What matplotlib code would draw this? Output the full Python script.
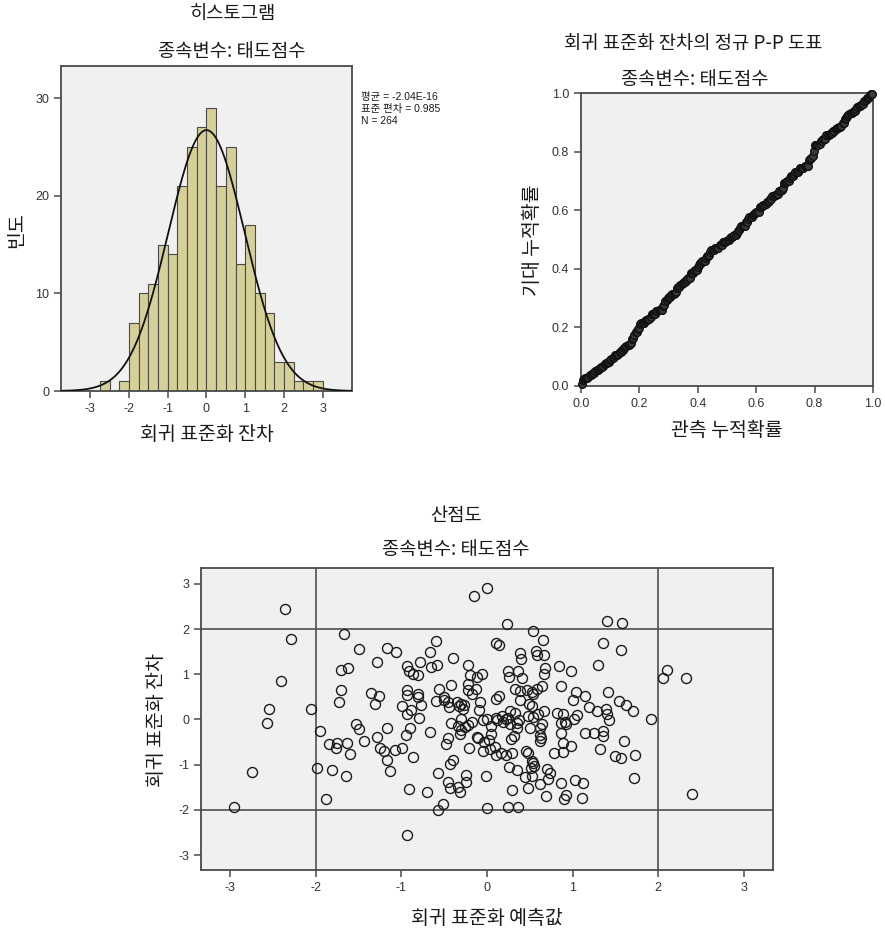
import math
import numpy as np
import matplotlib
matplotlib.use("Agg")
import matplotlib.pyplot as plt

plt.rcParams['font.family'] = ['Noto Sans CJK KR', 'DejaVu Sans']
plt.rcParams['axes.unicode_minus'] = False

# ---------------- data ----------------
hist_bin_start = -2.75
hist_bin_width = 0.25
hist_counts = [1, 0, 1, 7, 10, 11, 15, 14, 21, 25, 27, 29, 21, 25, 13, 17, 10, 8, 3, 3, 1, 1, 1]
resid_mean = -2.04e-16
resid_sd = 0.985
resid_n = 264

hist_xticks = [-3, -2, -1, 0, 1, 2, 3]
hist_yticks = [0, 10, 20, 30]
pp_ticks = [0.0, 0.2, 0.4, 0.6, 0.8, 1.0]
sc_ticks = [-3, -2, -1, 0, 1, 2, 3]
sc_reflines = [-2, 2]

pred = [-2.36, -2.29, -2.41, -2.55, -2.57, -2.75, -2.95, -2.06, -1.95, -1.98, -1.88, -1.81, -1.65, -1.85, -1.76,
        -1.75, -1.64, -1.60, -1.73, -1.71, -1.71, -1.62, -1.67, -1.50, -1.53, -1.50, -1.44, -1.35, -1.31, -1.26,
        -1.29, -1.29, -1.25, -1.20, -1.17, -1.17, -1.13, -1.17, -1.06, -1.08, -0.99, -0.99, -0.93, -0.91, -0.86,
        -0.81, -0.93, -0.93, -0.81, -0.77, -0.89, -0.93, -0.79, -0.90, -0.95, -0.86, -0.91, -0.93, -0.78, -0.67,
        -0.65, -0.58, -0.59, -0.59, -0.56, -0.67, -0.70, -0.57, -0.57, -0.51, -0.50, -0.45, -0.44, -0.40, -0.42,
        -0.42, -0.46, -0.48, -0.40, -0.43, -0.46, -0.43, -0.34, -0.32, -0.34, -0.32, -0.30, -0.28, -0.30, -0.26,
        -0.24, -0.24, -0.22, -0.22, -0.22,
        0.00, -0.15, 0.23, 0.54, 0.65, 0.10, 0.14, 0.39, 0.40, 0.57, 0.58, 0.67,
        1.40, 1.58, 1.36, 1.56, 1.30,
        0.84, 0.98, 0.68, 0.67, 0.25, 0.36, 0.26, 0.41, -0.06, -0.12,
        0.33, 0.39, 0.47, 0.52, 0.58, 0.64, 0.86,
        1.04, 1.14, 1.00, 1.19, 1.41, 1.54, 1.62, 1.70, 1.91,
        1.29, 1.39, 1.40, 1.43,
        0.10, 0.14, -0.08, -0.09,
        0.39, 0.49, 0.53, 0.59, 0.66,
        0.27, 0.33, 0.18, 0.11, 0.00, 0.22,
        0.35, 0.35, 0.50, 0.64, 0.62,
        0.82, 0.89, 0.86, 0.92, 1.02, 1.05,
        0.86, 1.14, 1.25, 1.35, 1.36, 1.60,
        1.32, 1.50, 1.56, 1.73, 1.72,
        0.05, 0.05, 0.02, -0.04, -0.05, 0.04, 0.10, 0.16, 0.22, 0.29,
        0.28, 0.31, 0.63, 0.62, 0.46, 0.48, 0.52, 0.55, 0.51,
        0.78, 0.89, 0.98, 0.89,
        0.26, 0.35, 0.44, 0.53, 0.70, 0.74, 0.71, 0.62, 0.48, 0.29,
        -0.01, 0.86, 1.03, 1.12,
        0.69, 0.92, 0.90, 1.11,
        0.00, 0.24, 0.36,
        2.10, 2.06, 2.32, 2.39,
        0.54, 0.25, 0.48, 0.54, 0.09, -0.10, -0.12, 0.62, 0.27, 0.37, 0.91, -0.05, 0.12, 0.19, 0.54,
        -0.20, -0.13, -0.18, -0.80, -0.50, -0.30, -0.22, -0.17, -0.21, -0.33, -0.27, -0.35]

resid = [2.45, 1.77, 0.85, 0.24, -0.07, -1.16, -1.93, 0.24, -0.26, -1.08, -1.77, -1.11, -1.24, -0.55, -0.64,
         -0.52, -0.51, -0.76, 0.38, 0.66, 1.09, 1.13, 1.90, 1.55, -0.09, -0.22, -0.47, 0.59, 0.35, 0.51,
         1.27, -0.39, -0.64, -0.69, -0.90, -0.18, -1.15, 1.59, 1.49, -0.68, -0.64, 0.30, 1.18, 1.07, 1.01,
         0.98, 0.66, 0.55, 0.57, 0.33, 0.22, 0.12, 0.04, -0.18, -0.35, -0.84, -1.54, -2.56, 1.27, 1.49,
         1.16, 1.20, 1.74, 0.40, 0.68, -0.27, -1.60, -1.19, -2.01, -1.86, 0.50, 0.39, 0.28, 1.37, 0.77,
         -0.07, -0.42, -0.54, -0.90, -0.99, -1.38, -1.51, -1.49, -1.60, -0.14, -0.33, 0.35, 0.24, 0.02, -0.16,
         -1.23, -1.38, 1.20, 0.79, 0.65,
         2.91, 2.73, 2.12, 1.96, 1.76, 1.69, 1.65, 1.46, 1.34, 1.51, 1.42, 1.43,
         2.18, 2.13, 1.69, 1.53, 1.21,
         1.18, 1.08, 1.13, 1.01, 1.07, 1.07, 0.94, 0.92, 1.00, 0.93,
         0.68, 0.63, 0.66, 0.61, 0.68, 0.74, 0.75,
         0.61, 0.52, 0.44, 0.28, 0.61, 0.40, 0.33, 0.18, 0.00,
         0.19, 0.23, 0.12, -0.02,
         0.46, 0.52, 0.39, 0.21,
         0.43, 0.34, 0.29, 0.12, 0.19,
         0.19, 0.15, 0.08, 0.04, 0.00, 0.01,
         -0.07, -0.18, -0.20, -0.09, -0.20,
         0.15, 0.12, -0.07, -0.11, 0.02, 0.10,
         -0.29, -0.29, -0.29, -0.26, -0.37, -0.48,
         -0.65, -0.80, -0.86, -0.79, -1.30,
         -0.14, -0.33, -0.46, -0.49, -0.69, -0.65, -0.79, -0.74, -0.79, -0.75,
         -0.43, -0.37, -0.40, -0.48, -0.69, -0.75, -0.93, -1.04, -1.08,
         -0.74, -0.72, -0.59, -0.51,
         -1.06, -1.12, -1.28, -1.25, -1.10, -1.19, -1.32, -1.43, -1.52, -1.57,
         -1.24, -1.41, -1.34, -1.41,
         -1.70, -1.68, -1.77, -1.73,
         -1.96, -1.94, -1.94,
         1.09, 0.92, 0.92, -1.64,
         0.57, 0.03, 0.07, 0.06, -0.60, -0.42, -0.38, -0.35, -0.09, -0.02, -0.05, -0.02, -0.01, -0.05, -0.97,
         0.98, 0.68, 0.57, 0.50, 0.43, -0.24, -0.13, -0.05, -0.64, 0.30, 0.31, 0.38]

# ---------------- style ----------------
BG = '#F0F0F0'
SPINE = '#4a4a4a'
TXT = '#1a1a1a'
LATIN = ['Liberation Sans', 'Noto Sans CJK KR']
W, H = 885, 935
TFS = 13.5   # title font size
LFS = 14     # axis label font size


def box(l, t, r, b):
    return [l / W, 1 - b / H, (r - l) / W, (b - t) / H]


def style_axes(ax):
    ax.set_facecolor(BG)
    for s in ax.spines.values():
        s.set_color(SPINE)
        s.set_linewidth(1.3)
    ax.tick_params(direction='out', length=5, width=1.1, color=SPINE,
                   labelsize=9, labelcolor='#333333', top=False, right=False,
                   labelfontfamily='Liberation Sans')


def px_to_axes(ax_box, x, y):
    l, t, r, b = ax_box
    return (x - l) / (r - l), (b - y) / (b - t)


fig = plt.figure(figsize=(W / 100, H / 100), dpi=100)

# ---------------- histogram ----------------
b1 = (61, 66, 352, 391)
ax1 = fig.add_axes(box(*b1))
style_axes(ax1)
edges = hist_bin_start + hist_bin_width * np.arange(len(hist_counts) + 1)
ax1.bar(edges[:-1], hist_counts, width=hist_bin_width, align='edge',
        color='#D5CF98', edgecolor='#4a4a4a', linewidth=0.8, zorder=2)
xs = np.linspace(-3.75, 3.75, 400)
pdf = np.exp(-0.5 * ((xs - resid_mean) / resid_sd) ** 2) / (resid_sd * math.sqrt(2 * math.pi))
ax1.plot(xs, resid_n * hist_bin_width * pdf, color='#111111', lw=1.3, zorder=3)
ax1.set_xlim(-3.75, 3.75)
ax1.set_ylim(0, 33.3)
ax1.set_xticks(hist_xticks)
ax1.set_yticks(hist_yticks)
ax1.set_xlabel('회귀 표준화 잔차', fontsize=LFS, color=TXT)
ax1.set_ylabel('빈도', fontsize=LFS, color=TXT)
ax1.xaxis.set_label_coords(*px_to_axes(b1, 207, 435))
ax1.yaxis.set_label_coords(*px_to_axes(b1, 17, 230))
ax1.xaxis.label.set_va('center')
ax1.yaxis.label.set_va('center')
fig.text(233 / W, 1 - 14 / H, '히스토그램', ha='center', va='center', fontsize=TFS, color=TXT)
fig.text(232 / W, 1 - 52 / H, '종속변수: 태도점수', ha='center', va='center', fontsize=TFS, color=TXT)
stats_lines = ['평균 = -2.04E-16', '표준 편차 = 0.985', 'N = 264']
for i, s in enumerate(stats_lines):
    fig.text(361 / W, 1 - (97 + 12 * i) / H, s, ha='left', va='center', fontsize=7.5,
             color=TXT, family=LATIN)

# ---------------- P-P plot ----------------
b2 = (581, 93, 873, 386)
ax2 = fig.add_axes(box(*b2))
style_axes(ax2)
z = np.sort(np.array(resid))
n = len(z)
mu, sd = z.mean(), z.std(ddof=1)
obs = (np.arange(1, n + 1) - 0.5) / n
exp_ = np.array([0.5 * (1 + math.erf((v - mu) / (sd * math.sqrt(2)))) for v in z])
ax2.plot(obs, exp_, linestyle='none', marker='o', markersize=5.5, markerfacecolor='#3a3a3a',
         markeredgecolor='#111111', markeredgewidth=1.0, zorder=3, clip_on=False)
ax2.set_xlim(0, 1)
ax2.set_ylim(0, 1)
ax2.set_xticks(pp_ticks)
ax2.set_yticks(pp_ticks)
ax2.set_xticklabels([f'{t:.1f}' for t in pp_ticks])
ax2.set_yticklabels([f'{t:.1f}' for t in pp_ticks])
ax2.set_xlabel('관측 누적확률', fontsize=LFS, color=TXT)
ax2.set_ylabel('기대 누적확률', fontsize=LFS, color=TXT)
ax2.xaxis.set_label_coords(*px_to_axes(b2, 727, 431))
ax2.yaxis.set_label_coords(*px_to_axes(b2, 532, 240))
ax2.xaxis.label.set_va('center')
ax2.yaxis.label.set_va('center')
fig.text(693 / W, 1 - 43 / H, '회귀 표준화 잔차의 정규 P-P 도표', ha='center', va='center', fontsize=TFS, color=TXT)
fig.text(695 / W, 1 - 79 / H, '종속변수: 태도점수', ha='center', va='center', fontsize=TFS, color=TXT)

# ---------------- scatter ----------------
b3 = (201, 568, 773, 870)
ax3 = fig.add_axes(box(*b3))
style_axes(ax3)
for v in sc_reflines:
    ax3.axvline(v, color='#505050', lw=1.2, zorder=1)
    ax3.axhline(v, color='#505050', lw=1.2, zorder=1)
ax3.plot(pred, resid, linestyle='none', marker='o', markersize=7.2, markerfacecolor='none',
         markeredgecolor='#1a1a1a', markeredgewidth=1.0, zorder=3)
ax3.set_xlim(-3.34, 3.34)
ax3.set_ylim(-3.33, 3.35)
ax3.set_xticks(sc_ticks)
ax3.set_yticks(sc_ticks)
ax3.set_xlabel('회귀 표준화 예측값', fontsize=LFS, color=TXT)
ax3.set_ylabel('회귀 표준화 잔차', fontsize=LFS, color=TXT)
ax3.xaxis.set_label_coords(*px_to_axes(b3, 487, 918))
ax3.yaxis.set_label_coords(*px_to_axes(b3, 157, 720))
ax3.xaxis.label.set_va('center')
ax3.yaxis.label.set_va('center')
fig.text(456 / W, 1 - 515 / H, '산점도', ha='center', va='center', fontsize=TFS, color=TXT)
fig.text(456 / W, 1 - 550 / H, '종속변수: 태도점수', ha='center', va='center', fontsize=TFS, color=TXT)

fig.savefig('out.png', dpi=100, facecolor='white')
